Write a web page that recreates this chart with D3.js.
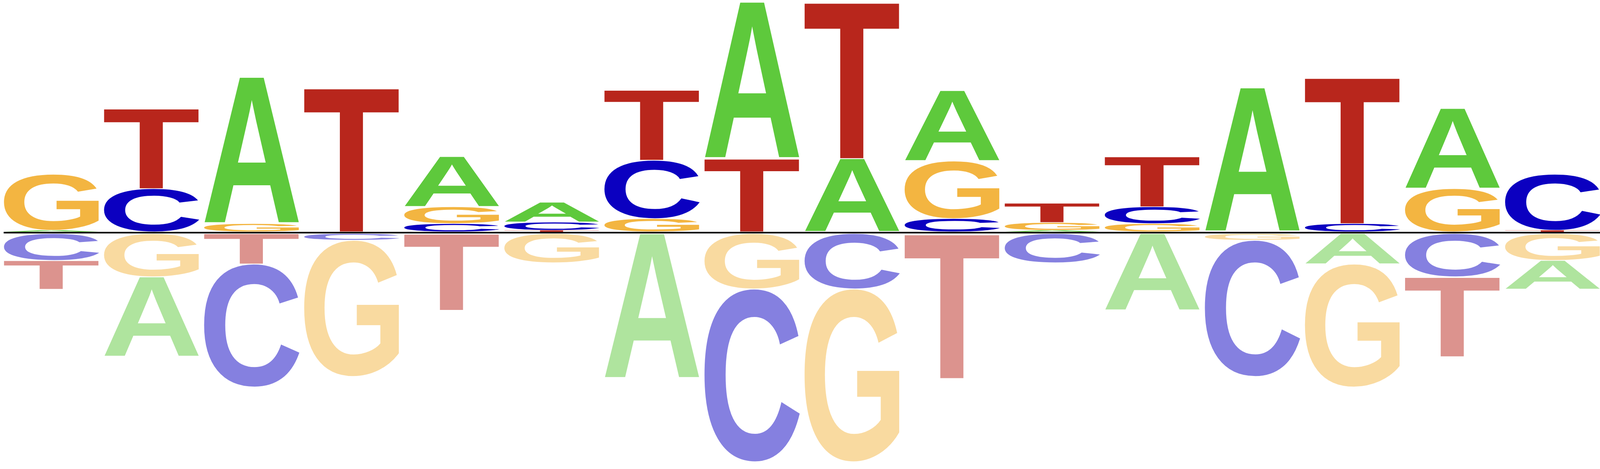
<!DOCTYPE html>
<html>
<head>
<meta charset="utf-8">
<script src="https://cdn.jsdelivr.net/npm/d3@7"></script>
<style>
  html, body { margin: 0; padding: 0; background: #fff; overflow: hidden; }
  svg { display: block; }
</style>
</head>
<body>
<div id="logo"></div>
<script>
// positions of the motif
const positions = ["1", "2", "3", "4", "5", "6", "7", "8", "9", "10", "11", "12", "13", "14", "15", "16"];
const bases = ["A", "C", "G", "T"];
const baseColors = ["#5ec93c", "#0b00c0", "#f3b541", "#b8261c"];

// letter heights per base (above baseline > 0, below baseline < 0)
const scoresA = [0.013, -0.689, 1.264, 0, 0.434, 0.171, -1.250, 1.352, 0.632, 0.608, 0.013, -0.662, 1.244, -0.262, 0.692, -0.249];
const scoresC = [-0.232, 0.373, -1.062, -0.057, 0.071, 0.071, 0.504, -1.492, -0.477, 0.114, -0.252, 0.145, -1.176, 0.071, -0.373, 0.484];
const scoresG = [0.484, -0.373, 0.071, -1.176, 0.145, -0.252, 0.114, -0.477, -1.492, 0.497, 0.067, 0.071, -0.057, -1.062, 0.373, -0.232];
const scoresT = [-0.249, 0.692, -0.262, 1.244, -0.662, 0.013, 0.608, 0.632, 1.352, -1.250, 0.168, 0.434, 0, 1.264, -0.689, 0.013];
const scores = [scoresA, scoresC, scoresG, scoresT];

// the chart is laid out on a 4800 x 1200 grid and stretched to the window
const width = window.innerWidth || 4800;
const height = window.innerHeight || 1200;
const kx = width / 4800, ky = height / 1200;

const svg = d3.select("#logo")
    .append("svg")
    .attr("width", width)
    .attr("height", height);

// one band per position
const x = d3.scaleBand()
    .domain(positions)
    .range([11.5 * kx, 4801 * kx])
    .paddingInner(0.047);

// above and below the black line
const yUp = d3.scaleLinear().domain([0, 2]).range([593 * ky, 0]);
const yDown = d3.scaleLinear().domain([0, -2]).range([597.5 * ky, 1190.5 * ky]);

// measure the ink box of each glyph so it can be stretched to its cell
const fontSize = 200;
const fontFamily = "'Liberation Sans'";
const ctx = document.createElement("canvas").getContext("2d");
ctx.font = `bold ${fontSize}px ${fontFamily}`;
const ink = {};
bases.forEach(b => {
    const m = ctx.measureText(b);
    ink[b] = {
        left: m.actualBoundingBoxLeft,
        w: m.actualBoundingBoxLeft + m.actualBoundingBoxRight,
        asc: m.actualBoundingBoxAscent,
        h: m.actualBoundingBoxAscent + m.actualBoundingBoxDescent
    };
});

// build the stacks: smallest letter next to the line
const letters = [];
positions.forEach((p, i) => {
    const col = bases.map((b, k) => ({ base: b, k: k, v: scores[k][i] }));
    let up = 0, down = 0;
    col.filter(d => d.v > 0)
        .sort((a, b) => a.v - b.v)
        .forEach(d => {
            letters.push({ pos: p, base: d.base, k: d.k, neg: false,
                y0: yUp(up + d.v), y1: yUp(up) });
            up += d.v;
        });
    col.filter(d => d.v < 0)
        .sort((a, b) => b.v - a.v)
        .forEach(d => {
            letters.push({ pos: p, base: d.base, k: d.k, neg: true,
                y0: yDown(down), y1: yDown(down + d.v) });
            down += d.v;
        });
});

// letters below the line are the same colours washed out with white
const light = c => d3.interpolateRgb(c, "#ffffff")(0.5);

svg.append("g")
    .selectAll("text")
    .data(letters)
    .join("text")
    .text(d => d.base)
    .attr("font-family", fontFamily)
    .attr("font-weight", "bold")
    .attr("font-size", fontSize)
    .attr("fill", d => d.neg ? light(baseColors[d.k]) : baseColors[d.k])
    .attr("transform", d => {
        const g = ink[d.base];
        const bw = x.bandwidth();
        const gap = (d.y1 - d.y0) > 4 ? 0.75 : 0;
        const bh = Math.max(d.y1 - d.y0 - 2 * gap, 0.5);
        const sx = bw / g.w, sy = bh / g.h;
        return `translate(${x(d.pos)},${d.y0 + gap}) scale(${sx},${sy}) translate(${g.left},${g.asc})`;
    });

// baseline
svg.append("line")
    .attr("x1", 11 * kx)
    .attr("x2", width)
    .attr("y1", 595.3 * ky)
    .attr("y2", 595.3 * ky)
    .attr("stroke", "#000")
    .attr("stroke-width", 4 * ky);
</script>
</body>
</html>
